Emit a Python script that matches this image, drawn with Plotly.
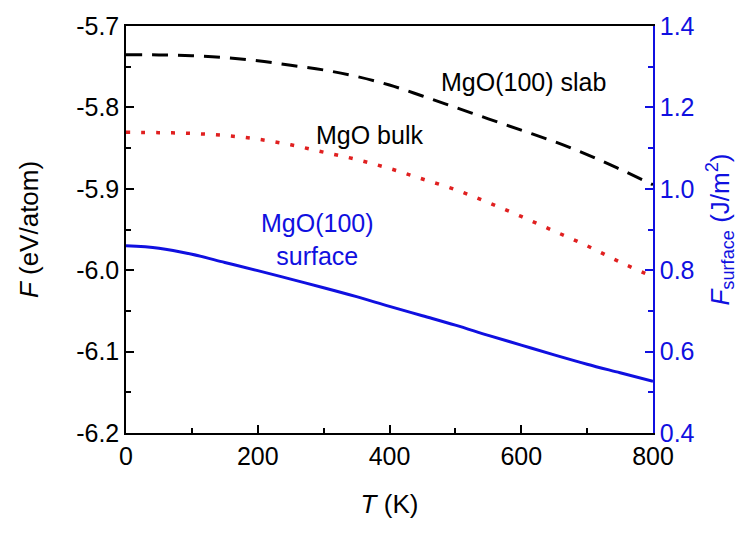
import plotly.graph_objects as go

# Temperature grid (K)
temperature = [0, 50, 100, 150, 200, 250, 300, 350, 400,
               450, 500, 550, 600, 650, 700, 750, 800]

# Free energy per atom (eV/atom), left axis
f_slab = [-5.7352, -5.7355, -5.7365, -5.7388, -5.7427, -5.7483, -5.754, -5.762, -5.7725,
          -5.786, -5.800, -5.814, -5.828, -5.842, -5.858, -5.876, -5.895]
f_bulk = [-5.8305, -5.831, -5.832, -5.8345, -5.839, -5.846, -5.855, -5.864, -5.875,
          -5.888, -5.901, -5.917, -5.934, -5.952, -5.970, -5.990, -6.008]

# Surface free energy (J/m^2), right axis
f_surface = [0.860, 0.854, 0.839, 0.819, 0.799, 0.778, 0.757, 0.735, 0.711,
             0.688, 0.665, 0.640, 0.616, 0.592, 0.569, 0.548, 0.527]

# Tick values and labels
x_ticks = [0, 200, 400, 600, 800]
x_ticklabels = ["0", "200", "400", "600", "800"]
y_ticks = [-6.2, -6.1, -6.0, -5.9, -5.8, -5.7]
y_ticklabels = ["-6.2", "-6.1", "-6.0", "-5.9", "-5.8", "-5.7"]
y2_ticks = [0.4, 0.6, 0.8, 1.0, 1.2, 1.4]
y2_ticklabels = ["0.4", "0.6", "0.8", "1.0", "1.2", "1.4"]

FONT = "Liberation Sans, Arial, sans-serif"
BLUE = "#1010E0"

fig = go.Figure()

fig.add_trace(go.Scatter(
    x=temperature, y=f_slab, mode="lines", line_shape="spline",
    line=dict(color="black", width=3, dash="16px,10px"),
    name="MgO(100) slab", showlegend=False))

fig.add_trace(go.Scatter(
    x=temperature, y=f_bulk, mode="lines", line_shape="spline",
    line=dict(color="#E02020", width=3.5, dash="4px,11px"),
    name="MgO bulk", showlegend=False))

fig.add_trace(go.Scatter(
    x=temperature, y=f_surface, mode="lines", line_shape="spline",
    line=dict(color=BLUE, width=3),
    name="MgO(100) surface", yaxis="y2", showlegend=False))

fig.add_annotation(x=603, y=-5.7683, text="MgO(100) slab", showarrow=False,
                   font=dict(family=FONT, size=25, color="black"))
fig.add_annotation(x=369, y=-5.834, text="MgO bulk", showarrow=False,
                   font=dict(family=FONT, size=25, color="black"))
fig.add_annotation(x=290, y=-5.962, text="MgO(100)<br>surface", showarrow=False,
                   font=dict(family=FONT, size=25, color=BLUE))

fig.update_layout(
    width=752, height=540,
    margin=dict(l=126, r=99, t=16, b=107),
    paper_bgcolor="white", plot_bgcolor="white",
    font=dict(family=FONT, size=25, color="black"),
    xaxis=dict(
        range=[0, 800], tickvals=x_ticks, ticktext=x_ticklabels,
        ticks="inside", ticklen=8, tickwidth=1.5, tickcolor="black",
        minor=dict(ticks="inside", ticklen=5, dtick=100, tick0=0,
                   tickcolor="black", tickwidth=1.5),
        showline=True, linecolor="black", linewidth=1.5, mirror=True,
        showgrid=False, zeroline=False,
        tickfont=dict(size=25),
        title=dict(text="<i>T</i> (K)", font=dict(size=26), standoff=26),
    ),
    yaxis=dict(
        range=[-6.2, -5.7], tickvals=y_ticks, ticktext=y_ticklabels,
        ticks="inside", ticklen=8, tickwidth=1.5, tickcolor="black",
        minor=dict(ticks="inside", ticklen=5, dtick=0.05, tick0=-6.2,
                   tickcolor="black", tickwidth=1.5),
        showline=True, linecolor="black", linewidth=1.5,
        showgrid=False, zeroline=False,
        tickfont=dict(size=25),
        title=dict(text="<i>F</i> (eV/atom)", font=dict(size=26), standoff=30),
    ),
    yaxis2=dict(
        overlaying="y", side="right",
        range=[0.4, 1.4], tickvals=y2_ticks, ticktext=y2_ticklabels,
        ticks="inside", ticklen=8, tickwidth=1.5, tickcolor=BLUE,
        minor=dict(ticks="inside", ticklen=5, dtick=0.1, tick0=0.4,
                   tickcolor=BLUE, tickwidth=1.5),
        showline=True, linecolor=BLUE, linewidth=1.5,
        showgrid=False, zeroline=False,
        tickfont=dict(size=25, color=BLUE),
        title=dict(text="<i>F</i><sub>surface</sub> (J/m<sup>2</sup>)",
                   font=dict(size=26, color=BLUE), standoff=17),
    ),
)

fig.write_html("out.html")
